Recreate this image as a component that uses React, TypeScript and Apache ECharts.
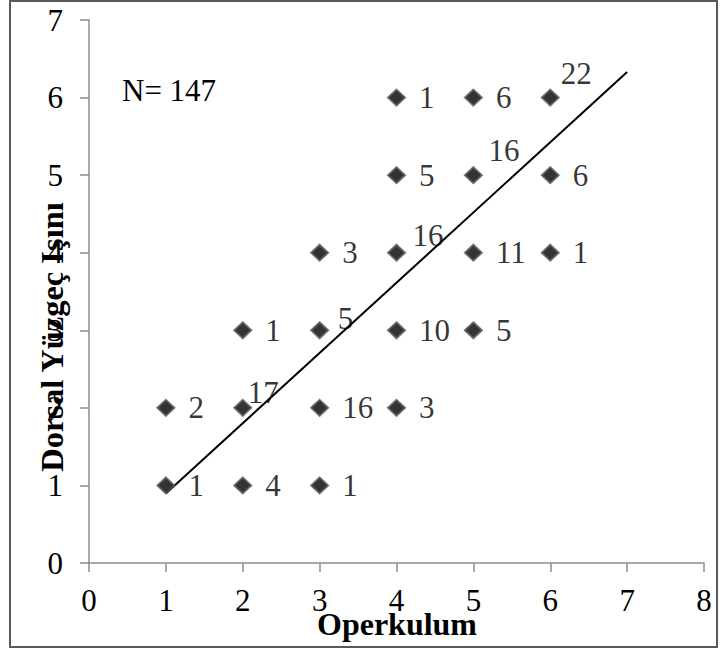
import React, { useEffect, useRef } from "react";
import * as echarts from "echarts";

// Operkulum (x), Dorsal fin rays (y), count of fish at each combination
const operkulum = [1, 2, 3, 1, 2, 3, 4, 2, 3, 4, 5, 3, 4, 5, 6, 4, 5, 6, 4, 5, 6];
const dorsal = [1, 1, 1, 2, 2, 2, 2, 3, 3, 3, 3, 4, 4, 4, 4, 5, 5, 5, 6, 6, 6];
const counts = [1, 4, 1, 2, 17, 16, 3, 1, 5, 10, 5, 3, 16, 11, 1, 5, 16, 6, 1, 6, 22];

// Linear trend line end points
const trendX = [1, 7];
const trendY = [0.896, 6.33];

const xTicks = [0, 1, 2, 3, 4, 5, 6, 7, 8];
const yTicks = [0, 1, 2, 3, 4, 5, 6, 7];

const sampleText = "N= 147";
const xTitle = "Operkulum";
const yTitle = "Dorsal Yüzgeç Işını";

// label nudges (style only) for labels drawn above-right of the marker
const labelNudge: Record<string, [number, number]> = {
  "2,2": [-17.5, -15],
  "3,3": [-4.5, -12],
  "4,4": [-6.5, -17],
  "5,5": [-7.5, -25],
  "6,6": [-12, -24],
};

const FONT = "'Liberation Serif', 'Times New Roman', serif";

export default function App() {
  const ref = useRef<HTMLDivElement>(null);
  useEffect(() => {
    if (!ref.current) return;
    const chart = echarts.init(ref.current, undefined, { renderer: "svg" });
    const scatterData = operkulum.map((x, i) => {
      const y = dorsal[i];
      const nudge = labelNudge[`${x},${y}`];
      const item: any = { value: [x, y, counts[i]] };
      if (nudge) item.label = { offset: nudge };
      return item;
    });
    chart.setOption({
      animation: false,
      backgroundColor: "#ffffff",
      textStyle: { fontFamily: FONT },
      grid: { left: 89, right: 16, top: 20, bottom: 89, containLabel: false },
      xAxis: {
        type: "value",
        min: xTicks[0],
        max: xTicks[xTicks.length - 1],
        interval: 1,
        splitLine: { show: false },
        axisLine: { show: true, lineStyle: { color: "#8c8c8c", width: 1.5 } },
        axisTick: { show: true, length: 9, lineStyle: { color: "#8c8c8c", width: 1.5 } },
        axisLabel: { fontSize: 31, color: "#000", fontFamily: FONT, margin: 22 },
      },
      yAxis: {
        type: "value",
        min: yTicks[0],
        max: yTicks[yTicks.length - 1],
        interval: 1,
        splitLine: { show: false },
        axisLine: { show: true, lineStyle: { color: "#8c8c8c", width: 1.5 } },
        axisTick: { show: true, length: 9, lineStyle: { color: "#8c8c8c", width: 1.5 } },
        axisLabel: { fontSize: 31, color: "#000", fontFamily: FONT, margin: 26 },
      },
      series: [
        {
          type: "line",
          data: trendX.map((x, i) => [x, trendY[i]]),
          showSymbol: false,
          symbol: "none",
          lineStyle: { color: "#000", width: 2 },
          z: 1,
          silent: true,
        },
        {
          type: "scatter",
          data: scatterData,
          symbol: "diamond",
          symbolSize: [17, 16],
          itemStyle: { color: "#000", borderColor: "#5a5a5a", borderWidth: 2 },
          z: 3,
          label: {
            show: true,
            position: "right",
            distance: 13,
            formatter: (p: any) => String(p.value[2]),
            fontSize: 31,
            color: "#000",
            fontFamily: FONT,
          },
        },
      ],
      graphic: [
        {
          type: "rect",
          shape: { x: 10, y: 1, width: 707, height: 646 },
          style: { fill: "none", stroke: "#5a5a5a", lineWidth: 2 },
          silent: true,
          z: 100,
        },
        {
          type: "text",
          x: 122,
          y: 90,
          style: {
            text: sampleText,
            font: `31px ${FONT}`,
            fill: "#000",
            textAlign: "left",
            textVerticalAlign: "middle",
          },
        },
        {
          type: "text",
          x: 397,
          y: 624,
          style: {
            text: xTitle,
            font: `bold 32px ${FONT}`,
            fill: "#000",
            textAlign: "center",
            textVerticalAlign: "middle",
          },
        },
        {
          type: "text",
          x: 52,
          y: 337,
          rotation: Math.PI / 2,
          style: {
            text: yTitle,
            font: `bold 32.5px ${FONT}`,
            fill: "#000",
            textAlign: "center",
            textVerticalAlign: "middle",
          },
        },
      ],
    });
    return () => chart.dispose();
  }, []);
  return (
    <div
      ref={ref}
      style={{ position: "absolute", left: 0, top: 0, width: 720, height: 652 }}
    />
  );
}
